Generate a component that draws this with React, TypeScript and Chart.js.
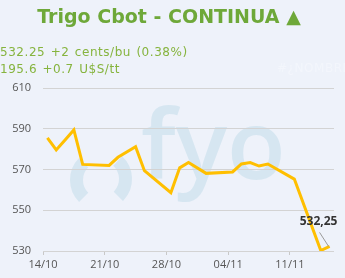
import { useEffect, useRef } from "react";
import { Chart, registerables } from "chart.js";

Chart.register(...registerables);

const dates = [
  "2024-10-14", "2024-10-15", "2024-10-16", "2024-10-17", "2024-10-18",
  "2024-10-21", "2024-10-22", "2024-10-24", "2024-10-25",
  "2024-10-28", "2024-10-29", "2024-10-30", "2024-11-01",
  "2024-11-04", "2024-11-05", "2024-11-06", "2024-11-07", "2024-11-08",
  "2024-11-11", "2024-11-14", "2024-11-15",
];
const prices = [
  585.5, 579.6, 584.5, 589.4, 572.5,
  572.0, 576.0, 581.2, 569.4,
  558.6, 570.8, 573.4, 568.1,
  568.8, 572.7, 573.4, 571.7, 572.7,
  565.3, 530.25, 532.25,
];
const tickDates = ["2024-10-14", "2024-10-21", "2024-10-28", "2024-11-04", "2024-11-11"];
const tickLabels = ["14/10", "21/10", "28/10", "04/11", "11/11"];
const endDate = "2024-11-16";
const yTicks = [530, 550, 570, 590, 610];
const titleText = "Trigo Cbot - CONTINUA \u25B2";
const subtitleLines = ["532.25 +2 cents/bu (0.38%)", "195.6 +0.7 U$S/tt"];
const errorText = "#\u00BFNOMBRE?";
const lastLabel = "532,25";

const DAY = 86400000;
const start = Date.parse(dates[0]);
const dayOffset = (d: string) => (Date.parse(d) - start) / DAY;

const BG = "#EEF2FA";

const decorPlugin = {
  id: "decor",
  beforeDraw(chart: any) {
    const ctx = chart.ctx;
    ctx.save();
    ctx.fillStyle = BG;
    ctx.fillRect(0, 0, chart.width, chart.height);
    // watermark
    const wm = "#D6E6F1";
    ctx.strokeStyle = wm;
    ctx.fillStyle = wm;
    ctx.lineWidth = 13;
    ctx.lineCap = "butt";
    ctx.beginPath();
    ctx.arc(101, 180, 24.5, (135 * Math.PI) / 180, (225 * Math.PI) / 180);
    ctx.stroke();
    ctx.beginPath();
    ctx.arc(101, 179, 24.5, (-47 * Math.PI) / 180, (45 * Math.PI) / 180);
    ctx.stroke();
    ctx.font = "600 96px 'Open Sans'";
    ctx.textAlign = "left";
    ctx.textBaseline = "alphabetic";
    ctx.fillText("fyo", 141, 179);
    // title & subtitles
    ctx.font = "bold 19px 'DejaVu Sans'";
    ctx.textAlign = "center";
    ctx.fillStyle = "#6EA839";
    ctx.fillText(titleText, 169, 23);
    ctx.font = "12px 'DejaVu Sans'";
    ctx.textAlign = "left";
    ctx.fillStyle = "#86B43E";
    try {
      ctx.letterSpacing = "0.55px";
      ctx.wordSpacing = "1px";
    } catch (e) {}
    ctx.fillText(subtitleLines[0], 0, 56);
    ctx.fillText(subtitleLines[1], 0, 73);
    ctx.fillStyle = "#F3F6FC";
    ctx.fillText(errorText, 277, 72);
    try {
      ctx.letterSpacing = "0px";
      ctx.wordSpacing = "0px";
    } catch (e) {}
    ctx.restore();
  },
  afterDatasetsDraw(chart: any) {
    const meta = chart.getDatasetMeta(0);
    const pt = meta.data[meta.data.length - 1];
    if (!pt) return;
    const ctx = chart.ctx;
    ctx.save();
    ctx.strokeStyle = "#9A9A9A";
    ctx.lineWidth = 1;
    ctx.beginPath();
    ctx.moveTo(pt.x - 10, pt.y - 14);
    ctx.lineTo(pt.x - 1, pt.y);
    ctx.stroke();
    ctx.font = "bold 12px 'Open Sans'";
    ctx.fillStyle = "#333333";
    ctx.textAlign = "center";
    ctx.textBaseline = "alphabetic";
    ctx.fillText(lastLabel, pt.x - 11, pt.y - 21);
    ctx.restore();
  },
};

export default function App() {
  const ref = useRef<HTMLCanvasElement | null>(null);
  useEffect(() => {
    if (!ref.current) return;
    const chart = new Chart(ref.current, {
      type: "line",
      data: {
        datasets: [
          {
            data: dates.map((d, i) => ({ x: dayOffset(d) + 0.5, y: prices[i] })),
            borderColor: "#FFBF00",
            borderWidth: 3,
            pointRadius: 0,
            tension: 0,
            fill: false,
          },
        ],
      },
      options: {
        animation: false,
        responsive: false,
        devicePixelRatio: 1,
        layout: { padding: { top: 88, right: 11, bottom: 0, left: 0 } },
        plugins: {
          legend: { display: false },
          title: { display: false },
          tooltip: { enabled: false },
        },
        scales: {
          x: {
            type: "linear",
            min: 0,
            max: dayOffset(endDate),
            afterBuildTicks: (s: any) => {
              s.ticks = tickDates.map((d) => ({ value: dayOffset(d) }));
            },
            afterFit: (s: any) => {
              s.height = 27;
            },
            ticks: {
              autoSkip: false,
              maxRotation: 0,
              padding: 3,
              color: "#555555",
              font: { family: "'Open Sans'", size: 11 },
              callback: (_v: any, i: number) => tickLabels[i],
            },
            grid: {
              drawOnChartArea: false,
              drawTicks: true,
              tickLength: 4,
              color: "#C8C8C8",
            },
            border: { display: false },
          },
          y: {
            min: yTicks[0],
            max: yTicks[yTicks.length - 1],
            afterBuildTicks: (s: any) => {
              s.ticks = yTicks.map((v) => ({ value: v }));
            },
            afterFit: (s: any) => {
              s.width = 43;
            },
            ticks: {
              padding: 12,
              color: "#555555",
              font: { family: "'Open Sans'", size: 11 },
            },
            grid: { drawTicks: false, color: "#D3D3D3" },
            border: { display: false },
          },
        },
      },
      plugins: [decorPlugin],
    });
    return () => chart.destroy();
  }, []);
  return (
    <div style={{ position: "absolute", left: 0, top: 0, width: 345, height: 278, background: BG }}>
      <canvas ref={ref} width={345} height={278} style={{ display: "block" }} />
    </div>
  );
}
